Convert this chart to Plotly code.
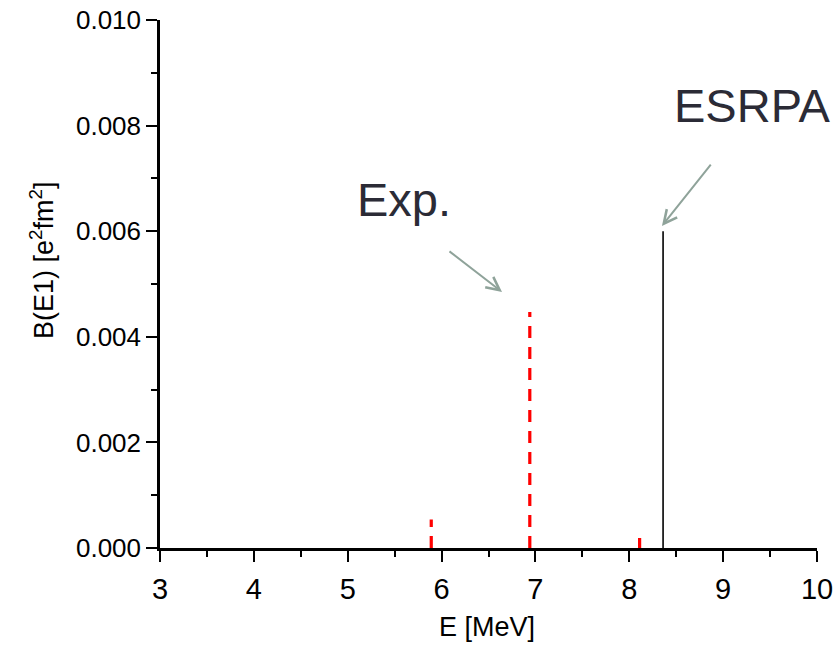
import plotly.graph_objects as go

# Experimental E1 strengths (MeV, e^2 fm^2)
exp_energy = [5.89, 6.94, 8.11]
exp_bE1 = [0.00054, 0.00447, 0.00019]

# ESRPA E1 strength
esrpa_energy = [8.36]
esrpa_bE1 = [0.0060]

x_ticks = [3, 4, 5, 6, 7, 8, 9, 10]
y_ticks = [0.000, 0.002, 0.004, 0.006, 0.008, 0.010]


def sticks(xs, ys):
    px, py = [], []
    for x, y in zip(xs, ys):
        px += [x, x, None]
        py += [0, y, None]
    return px, py


fig = go.Figure()

ex, ey = sticks(exp_energy, exp_bE1)
fig.add_trace(go.Scatter(x=ex, y=ey, mode="lines",
                         line=dict(color="#ff0000", width=3.2, dash="12px,9px"),
                         showlegend=False, hoverinfo="skip"))

sx, sy = sticks(esrpa_energy, esrpa_bE1)
fig.add_trace(go.Scatter(x=sx, y=sy, mode="lines",
                         line=dict(color="black", width=1.6),
                         showlegend=False, hoverinfo="skip"))

font = "Liberation Sans, Arial, sans-serif"
narrow = "Liberation Sans Narrow, Arial Narrow, Liberation Sans, sans-serif"
arrow_color = "#8fa39a"
label_color = "#2b2b36"

L, R, T, B = 160, 19, 20, 99
PW, PH = 836 - L - R, 647 - T - B


def px(x):
    return (x - L) / PW


def py(y):
    return (647 - B - y) / PH


# Labels with arrows pointing at the strengths
fig.add_annotation(x=6.644, y=0.00485, ax=6.068, ay=0.00564,
                   xref="x", yref="y", axref="x", ayref="y",
                   showarrow=True, arrowhead=5, arrowsize=1.3,
                   arrowwidth=2, arrowcolor=arrow_color, text="")
fig.add_annotation(x=8.348, y=0.00610, ax=8.881, ay=0.00729,
                   xref="x", yref="y", axref="x", ayref="y",
                   showarrow=True, arrowhead=5, arrowsize=1.3,
                   arrowwidth=2, arrowcolor=arrow_color, text="")
fig.add_annotation(x=px(404), y=py(199), xref="paper", yref="paper",
                   xanchor="center", yanchor="middle",
                   text="Exp.", showarrow=False,
                   font=dict(family=font, size=47, color=label_color))
fig.add_annotation(x=px(752), y=py(106), xref="paper", yref="paper",
                   xanchor="center", yanchor="middle",
                   text="ESRPA", showarrow=False,
                   font=dict(family=font, size=47, color=label_color))

# Axis titles
fig.add_annotation(x=px(487), y=py(627), xref="paper", yref="paper",
                   xanchor="center", yanchor="middle", showarrow=False,
                   text="E [MeV]", font=dict(family=font, size=27, color="black"))
fig.add_annotation(x=px(42), y=py(260), xref="paper", yref="paper",
                   xanchor="center", yanchor="middle", showarrow=False,
                   textangle=-90,
                   text="B(E1) [e<sup>2</sup>fm<sup>2</sup>]",
                   font=dict(family=font, size=27, color="black"))

fig.update_layout(
    width=836, height=647,
    margin=dict(l=L, r=R, t=T, b=B),
    paper_bgcolor="white", plot_bgcolor="white",
    font=dict(family=font, color="black"),
)

fig.update_xaxes(
    range=[3, 10], tickvals=x_ticks, ticktext=[str(v) for v in x_ticks],
    automargin=False,
    showgrid=False, zeroline=False,
    showline=True, linecolor="black", linewidth=2.5,
    ticks="outside", ticklen=11, tickwidth=2, tickcolor="black",
    minor=dict(dtick=0.5, ticks="outside", ticklen=6, tickwidth=2, tickcolor="black"),
    tickfont=dict(family=narrow, size=29),
    ticklabelstandoff=2,
)

fig.update_yaxes(
    range=[0, 0.010], tickvals=y_ticks, ticktext=[f"{v:.3f}" for v in y_ticks],
    automargin=False,
    showgrid=False, zeroline=False,
    showline=True, linecolor="black", linewidth=2.5,
    ticks="outside", ticklen=11, tickwidth=2, tickcolor="black",
    minor=dict(dtick=0.001, ticks="outside", ticklen=6, tickwidth=2, tickcolor="black"),
    tickfont=dict(family=font, size=26),
)

fig.write_html("out.html")
